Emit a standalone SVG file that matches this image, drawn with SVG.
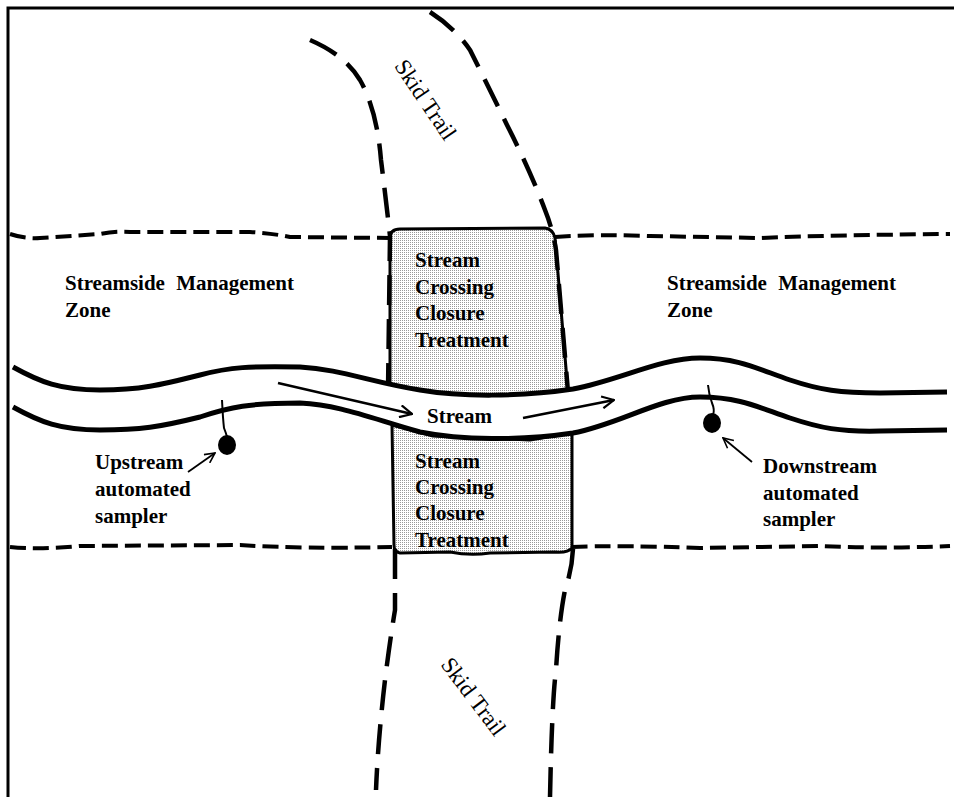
<svg xmlns="http://www.w3.org/2000/svg" width="954" height="797" viewBox="0 0 954 797">
<style>
.smz{fill:none;stroke:#000;stroke-width:4;stroke-dasharray:16 7}
.skid{fill:none;stroke:#000;stroke-width:4.5;stroke-dasharray:30 14;stroke-linecap:butt}
.bank{fill:none;stroke:#000;stroke-width:5;stroke-linejoin:round;stroke-linecap:butt}
.box{fill:url(#dots);stroke:#000;stroke-width:3;stroke-linejoin:round}
.lbl{font-family:"Liberation Serif","Times New Roman",serif;font-weight:bold;font-size:21px;fill:#000}
.skt{font-family:"Liberation Serif","Times New Roman",serif;font-size:23px;fill:#000}
.arr{fill:none;stroke:#000;stroke-width:2.5}
.sarr{fill:none;stroke:#000;stroke-width:1.8}
</style>
<defs>
<pattern id="dots" width="2" height="2" patternUnits="userSpaceOnUse"><rect width="2" height="2" fill="#fff"/><rect width="1" height="1" fill="#999"/></pattern>
<marker id="ah" viewBox="0 0 14 14" refX="13" refY="7" markerWidth="14" markerHeight="14" markerUnits="userSpaceOnUse" orient="auto"><path d="M1,1 L13,7 L1,13" fill="none" stroke="#000" stroke-width="2.2"/></marker>
<marker id="ahs" viewBox="0 0 12 12" refX="11" refY="6" markerWidth="12" markerHeight="12" markerUnits="userSpaceOnUse" orient="auto"><path d="M1,1 L11,6 L1,11" fill="none" stroke="#000" stroke-width="1.6"/></marker>
</defs>
<g id="frame"><path d="M8,797 L8,8 L954,8" fill="none" stroke="#000" stroke-width="3"/></g>
<g id="smz-lines">
<path class="smz" d="M10,234 Q25,239 40,238 L100,234 Q115,231 130,232 L250,232 Q270,233 290,237 L390,238"/>
<path class="smz" d="M555,237 Q600,234 650,236 L760,238 Q830,235 950,234"/>
<path class="smz" d="M10,547 Q40,550 80,546 L240,545 Q300,549 392,547"/>
<path class="smz" d="M572,547 Q620,545 700,548 L820,546 Q880,549 950,546"/>
</g>
<g id="crossing-upper">
<path class="box" d="M390,238 Q390,229 400,229 L545,228 Q553,229 555,238 Q560,300 568,392 L480,397 L433,393 L400,387 L390,385 Z"/>
</g>
<g id="crossing-lower">
<path class="box" d="M392,425 L433,436 L480,438 L530,440 L572,433 L572,548 Q568,553 555,552 L490,553 Q470,556 450,552 L400,553 Q394,552 394,545 Z"/>
</g>
<g id="skid-trail">
<path class="skid" d="M310,40 Q345,55 360,80 Q377,110 381,160 Q386,200 390,236 L388,392"/>
<path class="skid" d="M430,12 Q455,28 470,50 Q490,90 507,125 Q530,170 545,210 Q553,230 556,250 L568,392"/>
<path class="skid" d="M395,549 L395,610 Q390,640 385,680 Q378,740 376,790"/>
<path class="skid" d="M573,549 Q572,570 565,590 Q559,620 556,670 Q552,700 550,797"/>
<text class="skt" transform="translate(425,100) rotate(56)" text-anchor="middle" y="7">Skid Trail</text>
<text class="skt" transform="translate(473,697) rotate(53)" text-anchor="middle" y="7">Skid Trail</text>
</g>
<g id="stream">
<path fill="#fff" stroke="none" d="M13,367 C40,382 60,390 100,390 C140,390 160,385 200,375 C230,367 250,366 300,367 C340,369 370,382 420,390 C460,397 520,397 573,389 C620,380 660,358 700,358 C740,358 760,370 790,380 C820,390 840,393 880,393 L947,392 L947,430 L880,431 C840,432 820,428 790,418 C760,408 740,397 700,397 C660,397 620,424 573,433 C520,441 460,440 420,432 C370,418 340,405 300,403 C250,403 230,407 200,417 C160,427 140,430 100,430 C60,430 40,422 13,407 Z"/>
<path class="bank" d="M13,367 C40,382 60,390 100,390 C140,390 160,385 200,375 C230,367 250,366 300,367 C340,369 370,382 420,390 C460,397 520,397 573,389 C620,380 660,358 700,358 C740,358 760,370 790,380 C820,390 840,393 880,393 L947,392"/>
<path class="bank" d="M13,407 C40,422 60,430 100,430 C140,430 160,427 200,417 C230,407 250,403 300,403 C340,405 370,418 420,432 C460,440 520,441 573,433 C620,424 660,397 700,397 C740,397 760,408 790,418 C820,428 840,432 880,431 L947,430"/>
<text class="lbl" x="427" y="423">Stream</text>
</g>
<g id="connectors">
<path class="arr" d="M278,383 L412,414" marker-end="url(#ah)"/>
<path class="arr" d="M523,418 L614,400" marker-end="url(#ah)"/>
<path class="sarr" d="M188,472 L215,453" marker-end="url(#ahs)"/>
<path class="sarr" d="M752,462 L723,438" marker-end="url(#ahs)"/>
</g>
<g id="upstream-sampler">
<path d="M222,400 Q223,420 224,428 Q226,433 227,437" fill="none" stroke="#000" stroke-width="2"/>
<ellipse cx="227" cy="445" rx="9" ry="10" fill="#000"/>
<text class="lbl" x="95" y="469">Upstream</text>
<text class="lbl" x="95" y="496">automated</text>
<text class="lbl" x="95" y="523">sampler</text>
</g>
<g id="downstream-sampler">
<path d="M708,385 Q709,395 712,403 Q715,410 713,415" fill="none" stroke="#000" stroke-width="2"/>
<ellipse cx="712" cy="423" rx="9" ry="10" fill="#000"/>
<text class="lbl" x="763" y="473">Downstream</text>
<text class="lbl" x="763" y="500">automated</text>
<text class="lbl" x="763" y="526">sampler</text>
</g>
<g id="smz-left">
<text class="lbl" x="65" y="290" style="word-spacing:6px">Streamside Management</text>
<text class="lbl" x="65" y="317">Zone</text>
</g>
<g id="smz-right">
<text class="lbl" x="667" y="290" style="word-spacing:6px">Streamside Management</text>
<text class="lbl" x="667" y="317">Zone</text>
</g>
<g id="box-upper-text">
<text class="lbl" x="415" y="267">Stream</text>
<text class="lbl" x="415" y="294">Crossing</text>
<text class="lbl" x="415" y="320">Closure</text>
<text class="lbl" x="415" y="347">Treatment</text>
</g>
<g id="box-lower-text">
<text class="lbl" x="415" y="468">Stream</text>
<text class="lbl" x="415" y="494">Crossing</text>
<text class="lbl" x="415" y="520">Closure</text>
<text class="lbl" x="415" y="547">Treatment</text>
</g>
</svg>
